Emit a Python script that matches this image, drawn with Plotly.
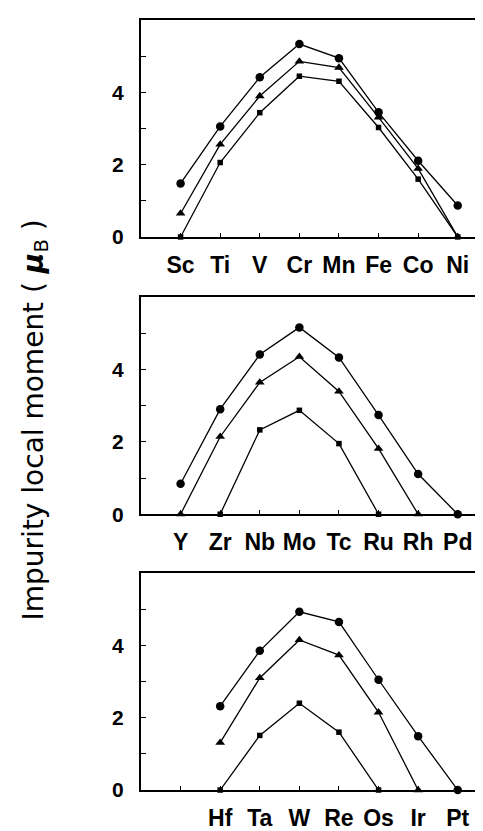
import plotly.graph_objects as go

# ---- data ----
labels_3d = ["Sc", "Ti", "V", "Cr", "Mn", "Fe", "Co", "Ni"]
circ_3d = [1.48, 3.06, 4.42, 5.34, 4.95, 3.45, 2.11, 0.87]
tri_3d = [0.65, 2.56, 3.90, 4.86, 4.69, 3.31, 1.89, 0.0]
sq_3d = [0.0, 2.06, 3.44, 4.45, 4.31, 3.03, 1.60, 0.0]

labels_4d = ["Y", "Zr", "Nb", "Mo", "Tc", "Ru", "Rh", "Pd"]
circ_4d = [0.84, 2.90, 4.41, 5.16, 4.33, 2.74, 1.11, 0.0]
tri_4d = [0.0, 2.14, 3.64, 4.35, 3.39, 1.81, 0.0, None]
sq_4d = [None, 0.0, 2.33, 2.87, 1.95, 0.0, None, None]

labels_5d = ["", "Hf", "Ta", "W", "Re", "Os", "Ir", "Pt"]
circ_5d = [None, 2.32, 3.85, 4.93, 4.65, 3.05, 1.49, 0.0]
tri_5d = [None, 1.31, 3.10, 4.15, 3.73, 2.15, 0.0, None]
sq_5d = [None, 0.0, 1.51, 2.40, 1.60, 0.0, None, None]

y_tick_vals = [0, 1, 2, 3, 4, 5]
y_tick_text = ["0", "", "2", "", "4", ""]
y_title = "Impurity local moment ( <b><i>μ</i></b><sub>B</sub> )"

W, H = 483, 831
x_left = 133 / W

panels = [
    (labels_3d, circ_3d, tri_3d, sq_3d, (12, 232)),
    (labels_4d, circ_4d, tri_4d, sq_4d, (292.5, 513)),
    (labels_5d, circ_5d, tri_5d, sq_5d, (572.3, 792.5)),
]

fig = go.Figure()
font_x = dict(family="Liberation Sans, Arial, sans-serif", size=23, color="black", weight="bold")
font_y = dict(family="Liberation Sans, Arial, sans-serif", size=21, color="black", weight="bold")

for i, (labs, c, t, s, (ytop, ybot)) in enumerate(panels):
    n = "" if i == 0 else str(i + 1)
    xs = list(range(len(labs)))
    for vals, sym, size in ((c, "circle", 8.5), (t, "triangle-up", 8.5), (s, "square", 5.5)):
        fig.add_trace(go.Scatter(
            x=xs, y=vals, mode="lines+markers",
            line=dict(color="black", width=1.3),
            marker=dict(symbol=sym, size=size, color="black"),
            cliponaxis=False, showlegend=False,
            xaxis="x" + n, yaxis="y" + n,
        ))
    dom_y = [(H - ybot) / H, (H - ytop) / H]
    fig.update_layout(**{
        "xaxis" + n: dict(
            domain=[x_left, 1.0], range=[-1, 7.84], anchor="y" + n,
            tickmode="array", tickvals=xs, ticktext=labs,
            ticks="inside", ticklen=4, tickcolor="black", tickwidth=1,
            showline=True, linecolor="black", linewidth=2, mirror=True,
            showgrid=False, zeroline=False, tickfont=font_x,
            ticklabelstandoff=6,
        ),
        "yaxis" + n: dict(
            domain=dom_y, range=[0, 6.01], anchor="x" + n,
            tickmode="array", tickvals=y_tick_vals, ticktext=y_tick_text,
            ticks="inside", ticklen=5, tickcolor="black", tickwidth=1,
            showline=True, linecolor="black", linewidth=2, mirror=False,
            showgrid=False, zeroline=False, tickfont=font_y,
            ticklabelstandoff=11,
        ),
    })

fig.add_annotation(
    text=y_title, xref="paper", yref="paper", x=27 / W, y=1 - 418 / H,
    xanchor="center", yanchor="middle", textangle=-90, showarrow=False,
    font=dict(family="DejaVu Sans, sans-serif", size=28, color="black"),
)

fig.update_layout(
    width=W, height=H, margin=dict(l=0, r=0, t=0, b=0),
    paper_bgcolor="white", plot_bgcolor="white",
)

fig.write_html("out.html")
